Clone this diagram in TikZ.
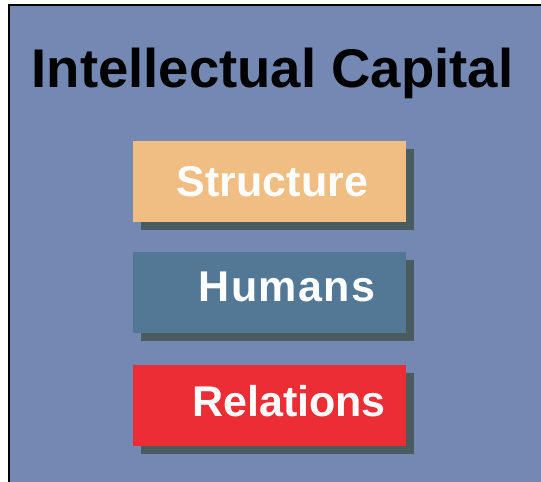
\documentclass[tikz,border=0pt]{standalone}
\usepackage{fontspec}
\setmainfont{Liberation Sans}
\usetikzlibrary{shadows}
\definecolor{panel}{HTML}{7389B4}
\definecolor{structcol}{HTML}{F0BD83}
\definecolor{humancol}{HTML}{537896}
\definecolor{relcol}{HTML}{EC2D35}
\definecolor{shadecol}{HTML}{4A5C60}
\begin{document}
\begin{tikzpicture}[x=1pt,y=-1pt,
  card/.style={rectangle, inner sep=0pt, outer sep=0pt,
    minimum width=273pt, minimum height=81pt,
    drop shadow={shadow xshift=8pt, shadow yshift=-8pt, fill=shadecol, opacity=1}},
  cardtext/.style={anchor=base, inner sep=0pt, text=white,
    font=\fontsize{43}{47}\selectfont\bfseries},
  titletext/.style={anchor=base west, inner sep=0pt, text=black,
    font=\fontsize{54.5}{60}\selectfont\bfseries}]
  \useasboundingbox (0,0) rectangle (541,482);
  % panel with a black frame running off the right and bottom edges
  \begin{scope}
    \clip (0,0) rectangle (541,482);
    \draw[fill=panel, draw=black, line width=1.5pt] (9,5) rectangle (560,500);
  \end{scope}
  \node[titletext] (title) at (31.5,87) {Intellectual Capital};
  % the three components
  \node[card, fill=structcol] (structure) at (269.5,181.5) {};
  \node[card, fill=humancol] (humans) at (269.5,292.5) {};
  \node[card, fill=relcol] (relations) at (269.5,405) {};
  \node[cardtext] (structurelabel) at (272.5,196) {Structure};
  \node[cardtext, font=\fontsize{43}{47}\selectfont\bfseries\addfontfeature{LetterSpace=3}] (humanslabel) at (287,301) {Humans};
  \node[cardtext] (relationslabel) at (289,416) {Relations};
\end{tikzpicture}
\end{document}
